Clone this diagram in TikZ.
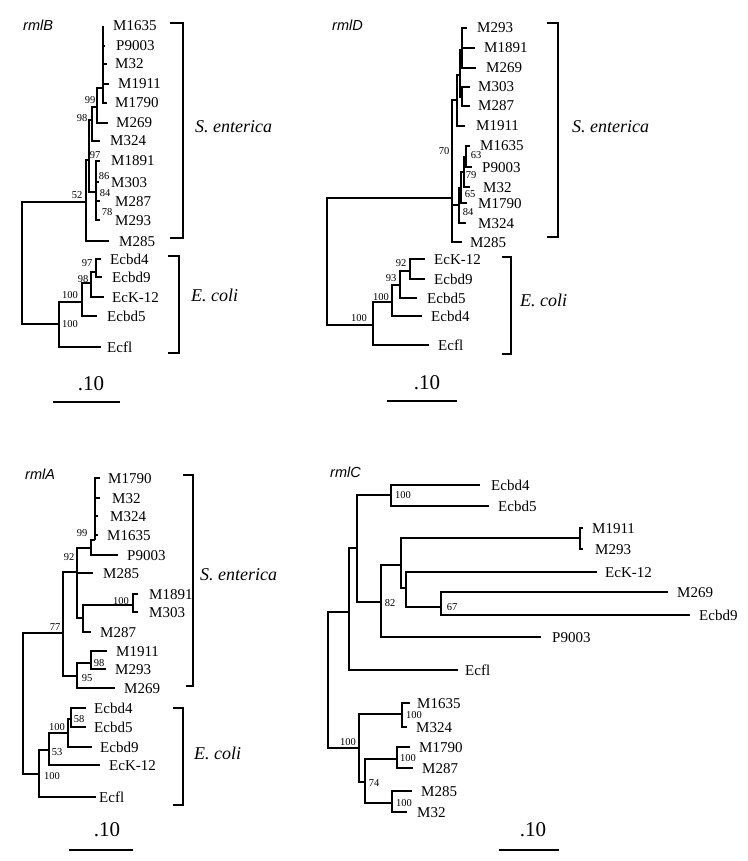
\documentclass[tikz,border=0pt]{standalone}
\usepackage{fontspec}
\setmainfont{Liberation Serif}
\setsansfont{Liberation Sans}
\usetikzlibrary{positioning}

\begin{document}
\begin{tikzpicture}[x=1pt,y=-1pt,
branch/.style={line width=1.1pt},
taxon/.style={anchor=west,inner sep=0pt,text height=10pt,text depth=0pt,font=\fontsize{15}{15}\selectfont},
boot/.style={inner sep=0pt,font=\fontsize{10.5}{10.5}\selectfont},
clade/.style={anchor=west,inner sep=0pt,font=\fontsize{18}{18}\selectfont\itshape},
gene/.style={anchor=west,inner sep=0pt,font=\fontsize{14.5}{14.5}\selectfont\sffamily\itshape},
barlab/.style={inner sep=0pt,font=\fontsize{21}{21}\selectfont},
brace/.style={line width=1.3pt}]
\useasboundingbox (0,0) rectangle (747,861);

\node[gene] (bT) at (23,25) {rmlB};
\node[taxon] (bM1635) at (113,26) {M1635};
\node[taxon] (bP9003) at (116,46) {P9003};
\node[taxon] (bM32) at (115,64) {M32};
\node[taxon] (bM1911) at (118,84) {M1911};
\node[taxon] (bM1790) at (115,103) {M1790};
\node[taxon] (bM269) at (116,123) {M269};
\node[taxon] (bM324) at (110,141) {M324};
\node[taxon] (bM1891) at (111,161) {M1891};
\node[taxon] (bM303) at (111,182) {M303};
\node[taxon] (bM287) at (115,201) {M287};
\node[taxon] (bM293) at (115,220) {M293};
\node[taxon] (bM285) at (119,241) {M285};
\node[taxon] (bEcbd4) at (110,259) {Ecbd4};
\node[taxon] (bEcbd9) at (112,277) {Ecbd9};
\node[taxon] (bEcK12) at (112,297) {EcK-12};
\node[taxon] (bEcbd5) at (107,316) {Ecbd5};
\node[taxon] (bEcfl) at (107,347) {Ecfl};
\coordinate (bR) at (22,263);
\coordinate (b52) at (86,202);
\coordinate (bX) at (89,160);
\coordinate (b98) at (92,120);
\coordinate (b99) at (97,107);
\coordinate (bP) at (103,88);
\coordinate (b97) at (96,192);
\coordinate (bE1) at (59,324);
\coordinate (bE2) at (82,302);
\coordinate (bE3) at (91,283);
\coordinate (bE4) at (96,272);
\draw[branch] (bR) |- (b52);
\draw[branch] (bR) |- (bE1);
\draw[branch] (b52) |- (bX);
\draw[branch] (b52) |- ([xshift=-10pt]bM285.west);
\draw[branch] (bX) |- (b98);
\draw[branch] (bX) |- (b97);
\draw[branch] (b98) |- (b99);
\draw[branch] (b98) |- ([xshift=-10pt]bM324.west);
\draw[branch] (b99) |- (bP);
\draw[branch] (b99) |- ([xshift=-8pt]bM269.west);
\draw[branch] (bP) |- ([xshift=-10pt]bM1635.west);
\draw[branch] (bP) |- ([xshift=-11pt]bP9003.west);
\draw[branch] (bP) |- ([xshift=-8pt]bM32.west);
\draw[branch] (bP) |- ([xshift=-9pt]bM1911.west);
\draw[branch] (bP) |- ([xshift=-8pt]bM1790.west);
\draw[branch] (b97) |- ([xshift=-11pt]bM1891.west);
\draw[branch] (b97) |- ([xshift=-12pt]bM303.west);
\draw[branch] (b97) |- ([xshift=-15pt]bM287.west);
\draw[branch] (b97) |- ([xshift=-15pt]bM293.west);
\draw[branch] (bE1) |- (bE2);
\draw[branch] (bE1) |- ([xshift=-6pt]bEcfl.west);
\draw[branch] (bE2) |- (bE3);
\draw[branch] (bE2) |- ([xshift=-10pt]bEcbd5.west);
\draw[branch] (bE3) |- (bE4);
\draw[branch] (bE3) |- ([xshift=-8pt]bEcK12.west);
\draw[branch] (bE4) |- ([xshift=-9pt]bEcbd4.west);
\draw[branch] (bE4) |- ([xshift=-10pt]bEcbd9.west);
\node[boot] (bB52) at (77,195) {52};
\node[boot] (bB98) at (82,118) {98};
\node[boot] (bB99) at (90,100) {99};
\node[boot] (bB97) at (95,155) {97};
\node[boot] (bB86) at (104,176) {86};
\node[boot] (bB84) at (105,193) {84};
\node[boot] (bB78) at (107,212) {78};
\node[boot] (bBE4) at (87,263) {97};
\node[boot] (bBE3) at (83,279) {98};
\node[boot] (bBE2) at (70,295) {100};
\node[boot] (bBE1) at (70,324) {100};
\draw[brace] (170,23) -| (183,238) -- (170,238);
\draw[brace] (168,256) -| (179,353) -- (168,353);
\node[clade] (bS) at (195,127) {S. enterica};
\node[clade] (bC) at (191,295) {E. coli};
\node[barlab] (bU) at (91,384) {.10};
\draw[branch] (53,402) -- (120,402);

\node[gene] (dT) at (332,25) {rmlD};
\node[taxon] (dM293) at (477,28) {M293};
\node[taxon] (dM1891) at (484,48) {M1891};
\node[taxon] (dM269) at (486,68) {M269};
\node[taxon] (dM303) at (478,87) {M303};
\node[taxon] (dM287) at (478,106) {M287};
\node[taxon] (dM1911) at (476,126) {M1911};
\node[taxon] (dM1635) at (480,146) {M1635};
\node[taxon] (dP9003) at (482,167) {P9003};
\node[taxon] (dM32) at (483,187) {M32};
\node[taxon] (dM1790) at (478,203) {M1790};
\node[taxon] (dM324) at (478,223) {M324};
\node[taxon] (dM285) at (470,242) {M285};
\node[taxon] (dEcK12) at (434,259) {EcK-12};
\node[taxon] (dEcbd9) at (434,279) {Ecbd9};
\node[taxon] (dEcbd5) at (427,298) {Ecbd5};
\node[taxon] (dEcbd4) at (431,316) {Ecbd4};
\node[taxon] (dEcfl) at (438,345) {Ecfl};
\coordinate (dR) at (327,262);
\coordinate (d70) at (452,198);
\coordinate (dU0) at (457,100);
\coordinate (dU1) at (460,75);
\coordinate (dU2) at (462,50);
\coordinate (dU3) at (462,97);
\coordinate (dL4) at (459,205);
\coordinate (dL3) at (461,188);
\coordinate (dL2) at (464,172);
\coordinate (dL1) at (466,157);
\coordinate (dE1) at (373,325);
\coordinate (dE2) at (392,302);
\coordinate (dE3) at (400,285);
\coordinate (dE4) at (410,271);
\draw[branch] (dR) |- (d70);
\draw[branch] (dR) |- (dE1);
\draw[branch] (d70) |- (dU0);
\draw[branch] (d70) |- (dL4);
\draw[branch] (d70) |- ([xshift=-8pt]dM285.west);
\draw[branch] (dU0) |- (dU1);
\draw[branch] (dU0) |- ([xshift=-11pt]dM1911.west);
\draw[branch] (dU1) |- (dU2);
\draw[branch] (dU1) |- (dU3);
\draw[branch] (dU2) |- ([xshift=-10pt]dM293.west);
\draw[branch] (dU2) |- ([xshift=-9pt]dM1891.west);
\draw[branch] (dU2) |- ([xshift=-10pt]dM269.west);
\draw[branch] (dU3) |- ([xshift=-8pt]dM303.west);
\draw[branch] (dU3) |- ([xshift=-8pt]dM287.west);
\draw[branch] (dL4) |- (dL3);
\draw[branch] (dL4) |- ([xshift=-12pt]dM324.west);
\draw[branch] (dL3) |- (dL2);
\draw[branch] (dL3) |- ([xshift=-11pt]dM1790.west);
\draw[branch] (dL2) |- (dL1);
\draw[branch] (dL2) |- ([xshift=-13pt]dM32.west);
\draw[branch] (dL1) |- ([xshift=-10pt]dM1635.west);
\draw[branch] (dL1) |- ([xshift=-10pt]dP9003.west);
\draw[branch] (dE1) |- (dE2);
\draw[branch] (dE1) |- ([xshift=-9pt]dEcfl.west);
\draw[branch] (dE2) |- (dE3);
\draw[branch] (dE2) |- ([xshift=-9pt]dEcbd4.west);
\draw[branch] (dE3) |- (dE4);
\draw[branch] (dE3) |- ([xshift=-10pt]dEcbd5.west);
\draw[branch] (dE4) |- ([xshift=-9pt]dEcK12.west);
\draw[branch] (dE4) |- ([xshift=-9pt]dEcbd9.west);
\node[boot] (dB70) at (444,151) {70};
\node[boot] (dB63) at (476,155) {63};
\node[boot] (dB79) at (471,175) {79};
\node[boot] (dB65) at (470,194) {65};
\node[boot] (dB84) at (468,212) {84};
\node[boot] (dBE4) at (401,263) {92};
\node[boot] (dBE3) at (391,278) {93};
\node[boot] (dBE2) at (381,297) {100};
\node[boot] (dBE1) at (359,318) {100};
\draw[brace] (547,23) -| (558,237) -- (547,237);
\draw[brace] (502,257) -| (511,354) -- (502,354);
\node[clade] (dS) at (572,127) {S. enterica};
\node[clade] (dC) at (520,300) {E. coli};
\node[barlab] (dU) at (427,383) {.10};
\draw[branch] (387,401) -- (457,401);

\node[gene] (aT) at (25,474) {rmlA};
\node[taxon] (aM1790) at (108,478) {M1790};
\node[taxon] (aM32) at (112,498) {M32};
\node[taxon] (aM324) at (110,516) {M324};
\node[taxon] (aM1635) at (107,535) {M1635};
\node[taxon] (aP9003) at (127,555) {P9003};
\node[taxon] (aM285) at (103,573) {M285};
\node[taxon] (aM1891) at (149,594) {M1891};
\node[taxon] (aM303) at (149,612) {M303};
\node[taxon] (aM287) at (100,632) {M287};
\node[taxon] (aM1911) at (116,651) {M1911};
\node[taxon] (aM293) at (115,669) {M293};
\node[taxon] (aM269) at (124,688) {M269};
\node[taxon] (aEcbd4) at (94,708) {Ecbd4};
\node[taxon] (aEcbd5) at (94,727) {Ecbd5};
\node[taxon] (aEcbd9) at (100,747) {Ecbd9};
\node[taxon] (aEcK12) at (109,765) {EcK-12};
\node[taxon] (aEcfl) at (99,797) {Ecfl};
\coordinate (aR) at (23,703);
\coordinate (a77) at (63,633);
\coordinate (a92) at (77,572);
\coordinate (a99) at (91,548);
\coordinate (aP) at (95,540);
\coordinate (a83) at (83,618);
\coordinate (a100) at (133,605);
\coordinate (a95) at (77,676);
\coordinate (a98) at (91,663);
\coordinate (aE1) at (39,774);
\coordinate (aE2) at (49,750);
\coordinate (aE3) at (68,733);
\coordinate (aE4) at (71,719);
\draw[branch] (aR) |- (a77);
\draw[branch] (aR) |- (aE1);
\draw[branch] (a77) |- (a92);
\draw[branch] (a77) |- (a95);
\draw[branch] (a92) |- (a99);
\draw[branch] (a92) |- ([xshift=-10pt]aM285.west);
\draw[branch] (a92) |- (a83);
\draw[branch] (a99) |- (aP);
\draw[branch] (a99) |- ([xshift=-9pt]aP9003.west);
\draw[branch] (aP) |- ([xshift=-8pt]aM1790.west);
\draw[branch] (aP) |- ([xshift=-12pt]aM32.west);
\draw[branch] (aP) |- ([xshift=-12pt]aM324.west);
\draw[branch] (aP) |- ([xshift=-9pt]aM1635.west);
\draw[branch] (a83) |- (a100);
\draw[branch] (a83) |- ([xshift=-9pt]aM287.west);
\draw[branch] (a100) |- ([xshift=-11pt]aM1891.west);
\draw[branch] (a100) |- ([xshift=-11pt]aM303.west);
\draw[branch] (a95) |- (a98);
\draw[branch] (a95) |- ([xshift=-9pt]aM269.west);
\draw[branch] (a98) |- ([xshift=-9pt]aM1911.west);
\draw[branch] (a98) |- ([xshift=-9pt]aM293.west);
\draw[branch] (aE1) |- (aE2);
\draw[branch] (aE1) |- ([xshift=-3pt]aEcfl.west);
\draw[branch] (aE2) |- (aE3);
\draw[branch] (aE2) |- ([xshift=-9pt]aEcK12.west);
\draw[branch] (aE3) |- (aE4);
\draw[branch] (aE3) |- ([xshift=-8pt]aEcbd9.west);
\draw[branch] (aE4) |- ([xshift=-8pt]aEcbd4.west);
\draw[branch] (aE4) |- ([xshift=-8pt]aEcbd5.west);
\node[boot] (aB99) at (82,533) {99};
\node[boot] (aB92) at (69,557) {92};
\node[boot] (aB100) at (121,601) {100};
\node[boot] (aB77) at (55,627) {77};
\node[boot] (aB98) at (99,663) {98};
\node[boot] (aB95) at (87,678) {95};
\node[boot] (aBE4) at (79,719) {58};
\node[boot] (aBE3) at (57,727) {100};
\node[boot] (aBE2) at (57,752) {53};
\node[boot] (aBE1) at (52,776) {100};
\draw[brace] (183,475) -| (193,686) -- (186,686);
\draw[brace] (173,708) -| (183,805) -- (173,805);
\node[clade] (aS) at (200,575) {S. enterica};
\node[clade] (aC) at (194,753) {E. coli};
\node[barlab] (aU) at (107,830) {.10};
\draw[branch] (69,850) -- (133,850);

\node[gene] (cT) at (330,472) {rmlC};
\node[taxon] (cEcbd4) at (491,485) {Ecbd4};
\node[taxon] (cEcbd5) at (498,506) {Ecbd5};
\node[taxon] (cM1911) at (592,528) {M1911};
\node[taxon] (cM293) at (595,549) {M293};
\node[taxon] (cEcK12) at (605,572) {EcK-12};
\node[taxon] (cM269) at (677,592) {M269};
\node[taxon] (cEcbd9) at (699,615) {Ecbd9};
\node[taxon] (cP9003) at (552,637) {P9003};
\node[taxon] (cEcfl) at (465,670) {Ecfl};
\node[taxon] (cM1635) at (417,703) {M1635};
\node[taxon] (cM324) at (416,727) {M324};
\node[taxon] (cM1790) at (419,747) {M1790};
\node[taxon] (cM287) at (422,768) {M287};
\node[taxon] (cM285) at (421,791) {M285};
\node[taxon] (cM32) at (417,812) {M32};
\coordinate (cR) at (328,680);
\coordinate (cN1) at (349,612);
\coordinate (cN2) at (357,548);
\coordinate (c100) at (391,495);
\coordinate (c82) at (381,602);
\coordinate (cN3) at (401,565);
\coordinate (cN4) at (580,538);
\coordinate (cN5) at (406,588);
\coordinate (c67) at (441,607);
\coordinate (c100b) at (359,748);
\coordinate (cNA) at (402,714);
\coordinate (c74) at (365,782);
\coordinate (cNB) at (397,759);
\coordinate (cNC) at (392,803);
\draw[branch] (cR) |- (cN1);
\draw[branch] (cR) |- (c100b);
\draw[branch] (cN1) |- (cN2);
\draw[branch] (cN1) |- ([xshift=-7pt]cEcfl.west);
\draw[branch] (cN2) |- (c100);
\draw[branch] (cN2) |- (c82);
\draw[branch] (c100) |- ([xshift=-11pt]cEcbd4.west);
\draw[branch] (c100) |- ([xshift=-9pt]cEcbd5.west);
\draw[branch] (c82) |- (cN3);
\draw[branch] (c82) |- ([xshift=-11pt]cP9003.west);
\draw[branch] (cN3) |- (cN4);
\draw[branch] (cN3) |- (cN5);
\draw[branch] (cN4) |- ([xshift=-9pt]cM1911.west);
\draw[branch] (cN4) |- ([xshift=-12pt]cM293.west);
\draw[branch] (cN5) |- ([xshift=-8pt]cEcK12.west);
\draw[branch] (cN5) |- (c67);
\draw[branch] (c67) |- ([xshift=-9pt]cM269.west);
\draw[branch] (c67) |- ([xshift=-9pt]cEcbd9.west);
\draw[branch] (c100b) |- (cNA);
\draw[branch] (c100b) |- (c74);
\draw[branch] (cNA) |- ([xshift=-7pt]cM1635.west);
\draw[branch] (cNA) |- ([xshift=-9pt]cM324.west);
\draw[branch] (c74) |- (cNB);
\draw[branch] (c74) |- (cNC);
\draw[branch] (cNB) |- ([xshift=-9pt]cM1790.west);
\draw[branch] (cNB) |- ([xshift=-9pt]cM287.west);
\draw[branch] (cNC) |- ([xshift=-9pt]cM285.west);
\draw[branch] (cNC) |- ([xshift=-10pt]cM32.west);
\node[boot] (cB100) at (403,495) {100};
\node[boot] (cB82) at (390,603) {82};
\node[boot] (cB67) at (452,607) {67};
\node[boot] (cB100b) at (348,742) {100};
\node[boot] (cBA) at (414,715) {100};
\node[boot] (cB74) at (374,783) {74};
\node[boot] (cBB) at (408,758) {100};
\node[boot] (cBC) at (404,803) {100};
\node[barlab] (cU) at (533,830) {.10};
\draw[branch] (499,850) -- (559,850);
\end{tikzpicture}
\end{document}
